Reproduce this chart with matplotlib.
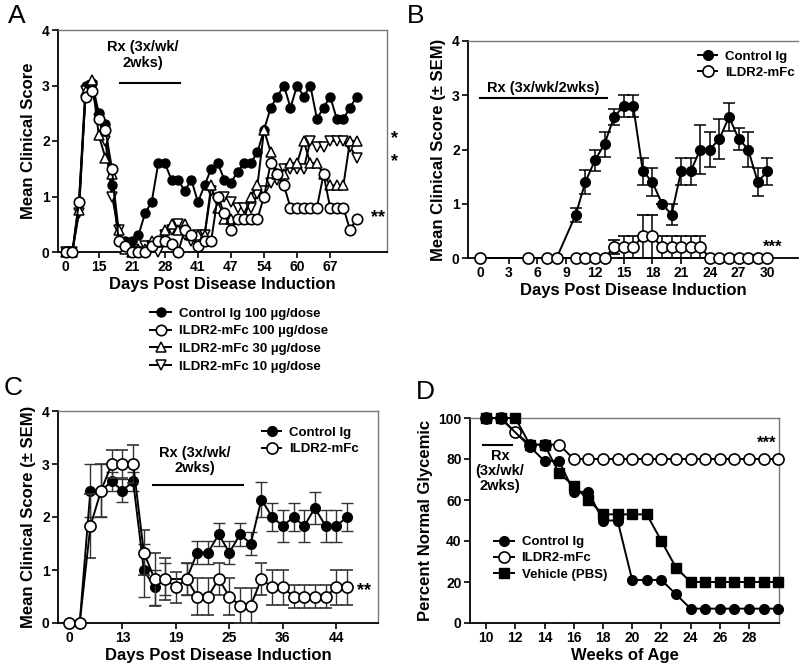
import numpy as np
import matplotlib
matplotlib.use('Agg')
import matplotlib.pyplot as plt
from matplotlib.lines import Line2D

plt.rcParams['font.family'] = ['Liberation Sans', 'DejaVu Sans']
plt.rcParams['font.weight'] = 'bold'
plt.rcParams['axes.labelweight'] = 'bold'

# ---------------- Panel A data (category index axis) ----------------
a_tick_labels = ['0', '15', '21', '28', '41', '47', '54', '60', '67']
a_ctrl = [0, 0, 0.9, 3.0, 3.05, 2.5, 2.3, 1.2, 0.2, 0.2, 0.2, 0.3, 0.7, 0.9, 1.6, 1.6,
          1.3, 1.3, 1.1, 1.3, 0.9, 1.2, 1.5, 1.6, 1.3, 1.25, 1.45, 1.6, 1.6, 1.8, 2.2,
          2.6, 2.8, 3.0, 2.6, 3.0, 2.8, 3.0, 2.4, 2.6, 2.8, 2.4, 2.4, 2.6, 2.8]
a_hi = [0, 0, 0.9, 2.8, 2.9, 2.4, 2.2, 1.5, 0.2, 0.1, 0, 0, 0, 0.1, 0.2, 0.2,
        0.15, 0, 0.4, 0.3, 0.1, 0.2, 0.2, 1.0, 0.7, 0.4, 0.6, 0.6, 0.6, 0.6, 1.0,
        1.6, 1.4, 1.2, 0.8, 0.8, 0.8, 0.8, 0.8, 1.4, 0.8, 0.8, 0.8, 0.4, 0.6]
a_mid = [0, 0, 0.75, 2.9, 3.1, 2.1, 1.7, 1.4, 0.4, 0.05, 0, 0.05, 0.05, 0.2, 0.2, 0.4,
         0.5, 0.4, 0.5, 0.3, 0.3, 0.3, 1.2, 0.8, 0.6, 0.6, 0.6, 0.6, 1.0, 1.2, 2.2,
         1.8, 1.4, 1.4, 1.6, 1.6, 2.0, 1.6, 1.6, 1.4, 1.2, 1.2, 1.2, 2.0, 2.0]
a_lo = [0, 0, 0.7, 2.9, 3.0, 2.4, 2.0, 1.0, 0.4, 0.1, 0, 0, 0.1, 0.1, 0, 0.3,
        0.4, 0.5, 0.3, 0.2, 0.3, 0.3, 1.1, 0.9, 1.0, 0.9, 0.8, 0.8, 0.8, 1.05, 1.1,
        1.25, 1.3, 1.5, 1.5, 1.5, 1.5, 2.0, 1.9, 1.9, 2.0, 2.0, 2.0, 1.9, 1.7]

# ---------------- Panel B data ----------------
b_days = [0, 5, 7, 8, 10, 11, 12, 13, 14, 15, 16, 17, 18, 19, 20, 21, 22, 23, 24, 25, 26, 27, 28, 29, 30]
b_ctrl = [0, 0, 0, 0, 0.8, 1.4, 1.8, 2.1, 2.6, 2.8, 2.8, 1.6, 1.4, 1.0, 0.8, 1.6, 1.6, 2.0, 2.0,
          2.2, 2.6, 2.2, 2.0, 1.4, 1.6]
b_ctrl_sem = [0, 0, 0, 0, 0.13, 0.22, 0.2, 0.23, 0.15, 0.2, 0.2, 0.25, 0.25, 0, 0.2, 0.25, 0.25,
              0.45, 0.32, 0.37, 0.25, 0.2, 0.32, 0.25, 0.25]
b_ildr = [0, 0, 0, 0, 0, 0, 0, 0, 0.2, 0.2, 0.2, 0.4, 0.4, 0.2, 0.2, 0.2, 0.2, 0.2, 0,
          0, 0, 0, 0, 0, 0]
b_ildr_sem = [0, 0, 0, 0, 0, 0, 0, 0, 0.13, 0.2, 0.2, 0.4, 0.4, 0.2, 0.2, 0.2, 0.2, 0.2, 0,
              0, 0, 0, 0, 0, 0]
b_ticks = [0, 3, 6, 9, 12, 15, 18, 21, 24, 27, 30]

# ---------------- Panel C data (category index axis) ----------------
c_tick_labels = ['0', '13', '19', '25', '36', '44']
c_ctrl_idx = [0, 1, 2, 3, 4, 5, 6, 7, 8, 9, 11, 12, 13, 14, 15, 16, 17, 18, 19, 20, 21, 22, 23, 24, 25, 26]
c_ctrl = [0, 0, 2.5, 2.5, 2.67, 2.5, 2.67, 1.0, 0.67, 0.83, 0.83, 1.33, 1.33, 1.67, 1.33, 1.67,
          1.5, 2.33, 2.0, 1.83, 2.0, 1.83, 2.17, 1.83, 1.83, 2.0]
c_ctrl_sem = [0, 0, 0.5, 0.5, 0.17, 0.22, 0.17, 0.5, 0.33, 0.3, 0.3, 0.21, 0.21, 0.21, 0.21, 0.21,
              0.21, 0.33, 0.26, 0.3, 0.26, 0.3, 0.3, 0.3, 0.3, 0.26]
c_ildr = [0, 0, 1.83, 2.5, 3.0, 3.0, 3.0, 1.33, 0.83, 0.83, 0.67, 0.83, 0.5, 0.5, 0.83, 0.5,
          0.33, 0.33, 0.83, 0.67, 0.67, 0.5, 0.5, 0.5, 0.5, 0.67, 0.67]
c_ildr_sem = [0, 0, 0.6, 0.5, 0.26, 0.26, 0.36, 0.42, 0.5, 0.4, 0.3, 0.3, 0.35, 0.35, 0.3, 0.35,
              0.33, 0.33, 0.3, 0.33, 0.33, 0.22, 0.22, 0.22, 0.22, 0.33, 0.33]

# ---------------- Panel D data ----------------
d_ctrl_wk = [10, 11, 13, 14, 15, 16, 17, 18, 19, 20, 21, 22, 23, 24, 25, 26, 27, 28, 29, 30]
d_ctrl = [100, 100, 86, 79, 79, 64, 64, 50, 50, 21, 21, 21, 14, 7, 7, 7, 7, 7, 7, 7]
d_ildr_wk = list(range(10, 31))
d_ildr = [100, 100, 93, 87, 87, 87, 80, 80, 80, 80, 80, 80, 80, 80, 80, 80, 80, 80, 80, 80, 80]
d_veh_wk = list(range(10, 31))
d_veh = [100, 100, 100, 87, 87, 73, 67, 60, 53, 53, 53, 53, 40, 27, 20, 20, 20, 20, 20, 20, 20]
d_xticks = [10, 12, 14, 16, 18, 20, 22, 24, 26, 28]

W, H = 800, 668
fig = plt.figure(figsize=(W / 100, H / 100), dpi=100)


def ax_px(l, t, r, b):
    return fig.add_axes([l / W, 1 - b / H, (r - l) / W, (b - t) / H])


def style(ax, right=True):
    for s in ['left', 'bottom']:
        ax.spines[s].set_color('black')
        ax.spines[s].set_linewidth(1.3)
    for s in ['top', 'right']:
        ax.spines[s].set_color('#777777')
        ax.spines[s].set_linewidth(1.0)
    if not right:
        ax.spines['right'].set_visible(False)
    ax.tick_params(direction='out', length=4, width=1.2, labelsize=10, pad=2)
    for lab in ax.get_xticklabels() + ax.get_yticklabels():
        lab.set_fontweight('bold')


lw = 1.4
filled = dict(marker='o', color='black', mfc='black', mec='black', lw=lw, ms=7, clip_on=False)
openc = dict(marker='o', color='black', mfc='white', mec='black', mew=1.2, lw=lw, ms=8, clip_on=False)
square = dict(marker='s', color='black', mfc='black', mec='black', lw=lw, ms=7, clip_on=False)
leg_prop = {'weight': 'bold', 'size': 9.5}


def handle(style_kw):
    kw = {k: v for k, v in style_kw.items() if k != 'clip_on'}
    return Line2D([], [], **kw)


# ======================= Panel A =======================
axA = ax_px(58, 30, 387, 252)
xa = np.arange(len(a_ctrl))
a_f = {**filled, 'ms': 6.5}
a_up = dict(marker='^', color='black', mfc='white', mec='black', mew=1.1, lw=lw, ms=7.5, clip_on=False)
a_dn = dict(marker='v', color='black', mfc='white', mec='black', mew=1.1, lw=lw, ms=7.5, clip_on=False)
a_o = {**openc, 'ms': 7.5}
axA.plot(xa, a_ctrl, zorder=3, **a_f)
axA.plot(xa, a_lo, zorder=4, **a_dn)
axA.plot(xa, a_mid, zorder=5, **a_up)
axA.plot(xa, a_hi, zorder=6, **a_o)
axA.set_xlim(-1.17, 48.6)
axA.set_ylim(0, 4)
axA.set_xticks(np.arange(0, 41, 5))
axA.set_xticklabels(a_tick_labels)
axA.set_yticks([0, 1, 2, 3, 4])
axA.set_ylabel('Mean Clinical Score', fontsize=12, fontweight='bold', labelpad=4)
axA.set_xlabel('Days Post Disease Induction', fontsize=12, fontweight='bold', labelpad=2)
style(axA)
axA.plot([8.2, 17.3], [3.05, 3.05], color='black', lw=1.5)
axA.text(11.6, 3.55, 'Rx (3x/wk/\n2wks)', ha='center', va='center', fontsize=10.5,
         fontweight='bold', linespacing=1.1)
axA.text(49.2, 2.05, '*', ha='left', va='center', fontsize=13, fontweight='bold', clip_on=False)
axA.text(49.2, 1.62, '*', ha='left', va='center', fontsize=13, fontweight='bold', clip_on=False)
axA.text(46.2, 0.62, '**', ha='left', va='center', fontsize=13, fontweight='bold', clip_on=False)
fig.legend([handle(a_f), handle(a_o), handle(a_up), handle(a_dn)],
           ['Control Ig 100 \u00b5g/dose', 'ILDR2-mFc 100 \u00b5g/dose',
            'ILDR2-mFc 30 \u00b5g/dose', 'ILDR2-mFc 10 \u00b5g/dose'],
           loc='upper left', bbox_to_anchor=(145 / W, 1 - 302 / H), frameon=False,
           prop=leg_prop, handlelength=1.6, handletextpad=0.6,
           labelspacing=0.42, borderaxespad=0)

# ======================= Panel B =======================
axB = ax_px(468, 41, 798, 258)
axB.errorbar(b_days, b_ctrl, yerr=b_ctrl_sem, capsize=4, elinewidth=1.1, capthick=1.1,
             ecolor='black', zorder=3, **filled)
axB.errorbar(b_days, b_ildr, yerr=b_ildr_sem, capsize=4, elinewidth=1.1, capthick=1.1,
             ecolor='black', zorder=4, **openc)
axB.set_xlim(-1.25, 33.2)
axB.set_ylim(0, 4)
axB.set_xticks(b_ticks)
axB.set_yticks([0, 1, 2, 3, 4])
axB.set_ylabel('Mean Clinical Score (\u00b1 SEM)', fontsize=12, fontweight='bold', labelpad=4)
axB.set_xlabel('Days Post Disease Induction', fontsize=12, fontweight='bold', labelpad=2)
style(axB, right=False)
axB.plot([0, 13.3], [2.95, 2.95], color='black', lw=1.5)
axB.text(6.6, 3.13, 'Rx (3x/wk/2wks)', ha='center', va='center', fontsize=10.5, fontweight='bold')
axB.text(30.6, 0.2, '***', ha='center', va='center', fontsize=12, fontweight='bold')
axB.legend([handle(filled), handle(openc)], ['Control Ig', 'ILDR2-mFc'], loc='upper left',
           bbox_to_anchor=(0.68, 0.98), frameon=False, prop=leg_prop, handlelength=1.5,
           handletextpad=0.6, labelspacing=0.3, borderaxespad=0)

# ======================= Panel C =======================
axC = ax_px(58, 411, 378, 623)
xc = np.arange(len(c_ildr))
axC.errorbar(c_ctrl_idx, c_ctrl, yerr=c_ctrl_sem, capsize=4, elinewidth=1.0, capthick=1.0,
             ecolor='#333333', zorder=3, **filled)
axC.errorbar(xc, c_ildr, yerr=c_ildr_sem, capsize=4, elinewidth=1.0, capthick=1.0,
             ecolor='#333333', zorder=4, **openc)
axC.set_xlim(-1.03, 28.9)
axC.set_ylim(0, 4)
axC.set_xticks(np.arange(0, 26, 5))
axC.set_xticklabels(c_tick_labels)
axC.set_yticks([0, 1, 2, 3, 4])
axC.set_ylabel('Mean Clinical Score (\u00b1 SEM)', fontsize=12, fontweight='bold', labelpad=4)
axC.set_xlabel('Days Post Disease Induction', fontsize=12, fontweight='bold', labelpad=2)
style(axC)
axC.plot([7.9, 16.3], [2.6, 2.6], color='black', lw=1.5)
axC.text(11.8, 3.07, 'Rx (3x/wk/\n2wks)', ha='center', va='center', fontsize=10.5,
         fontweight='bold', linespacing=1.1)
axC.text(27.6, 0.62, '**', ha='center', va='center', fontsize=13, fontweight='bold')
axC.legend([handle(filled), handle(openc)], ['Control Ig', 'ILDR2-mFc'], loc='upper left',
           bbox_to_anchor=(0.62, 0.95), frameon=False, prop=leg_prop, handlelength=1.5,
           handletextpad=0.6, labelspacing=0.3, borderaxespad=0)

# ======================= Panel D =======================
axD = ax_px(470, 418, 779, 623)
axD.plot(d_ildr_wk, d_ildr, zorder=3, **openc)
axD.plot(d_veh_wk, d_veh, zorder=4, **square)
axD.plot(d_ctrl_wk, d_ctrl, zorder=5, **filled)
axD.set_xlim(8.9, 30.05)
axD.set_ylim(0, 100)
axD.set_xticks(d_xticks)
axD.set_yticks([0, 20, 40, 60, 80, 100])
axD.set_ylabel('Percent Normal Glycemic', fontsize=12, fontweight='bold', labelpad=4)
axD.set_xlabel('Weeks of Age', fontsize=12, fontweight='bold', labelpad=2)
style(axD)
axD.plot([9.8, 11.8], [86.8, 86.8], color='black', lw=1.5)
axD.text(10.95, 74, 'Rx\n(3x/wk/\n2wks)', ha='center', va='center', fontsize=10.5,
         fontweight='bold', linespacing=1.1)
axD.text(29.2, 87.5, '***', ha='center', va='center', fontsize=12, fontweight='bold')
axD.legend([handle(filled), handle(openc), handle(square)],
           ['Control Ig', 'ILDR2-mFc', 'Vehicle (PBS)'], loc='upper left',
           bbox_to_anchor=(0.06, 0.45), frameon=False, prop=leg_prop,
           handlelength=1.5, handletextpad=0.6, labelspacing=0.3, borderaxespad=0)

# Panel letters
for x, y, s in [(8, 4, 'A'), (407, 4, 'B'), (4, 376, 'C'), (416, 380, 'D')]:
    fig.text(x / W, 1 - y / H, s, ha='left', va='top', fontsize=19, fontweight='normal')

fig.savefig('out.png', dpi=100)
